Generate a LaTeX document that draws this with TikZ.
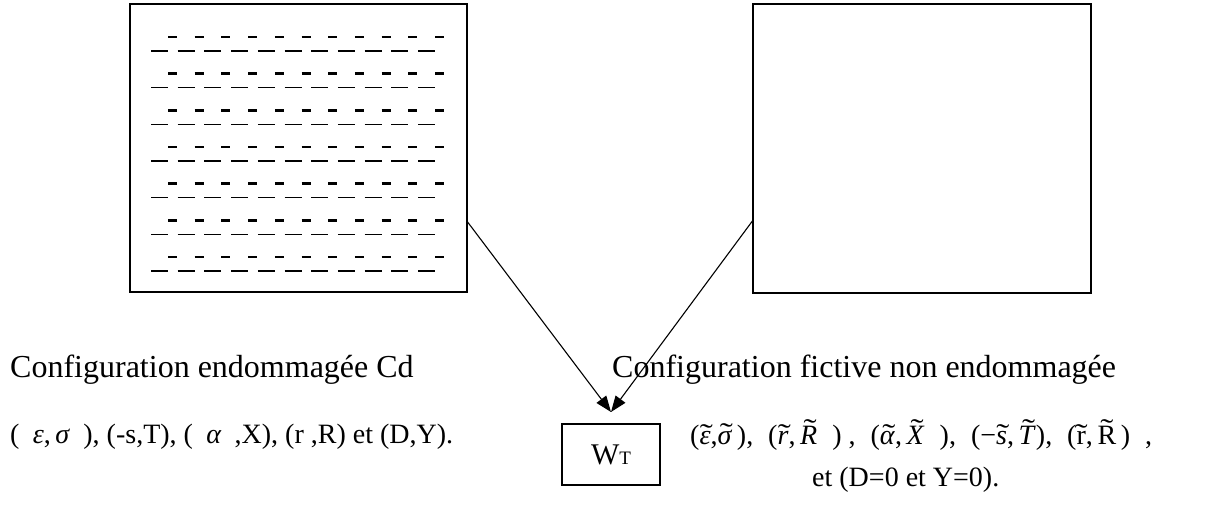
\documentclass[tikz,border=0pt]{standalone}
\usepackage{fontspec}
\setmainfont{Liberation Serif}
\usetikzlibrary{arrows.meta}
\newcommand{\tld}[2][0.1em]{\setbox0\hbox{#2}\rlap{\hbox to \wd0{\hss\kern#1\raisebox{\dimexpr\ht0-0.47em\relax}{\scalebox{1.4}[1]{\char"02DC}}\hss}}\box0}
\newcommand{\spg}{\hspace{0pt plus 1fil}}
\tikzset{
  frame/.style={draw, line width=1.2pt, inner sep=0pt},
  lbl/.style={anchor=base west, inner sep=0pt, font=\fontsize{32}{38}\selectfont},
  eq/.style={anchor=base west, inner sep=0pt, font=\fontsize{28}{33}\selectfont},
  conn/.style={line width=1.1pt, -{Triangle[length=16pt,width=12pt]}},
  hy/.style={line width=2.5pt},
  us/.style={line width=1.3pt},
}
\begin{document}
\begin{tikzpicture}[x=1pt,y=-1pt]
\useasboundingbox (0,0) rectangle (1213,510);
\node[frame, minimum width=337pt, minimum height=288pt] (L) at (298.5,148) {};
\node[frame, minimum width=338pt, minimum height=289pt] (R) at (922,148.5) {};
\foreach \i in {0,...,6} \foreach \j in {0,...,10} {
  \draw[us] ({151+26.7*\j},{51+36.67*\i}) -- ++(17,0);
  \draw[hy] ({168+26.7*\j},{37+36.67*\i}) -- ++(9,0);
}
\node[frame, minimum width=98pt, minimum height=61pt, font=\fontsize{30}{36}\selectfont] (W) at (611,454.5) {W{\fontsize{19}{22}\selectfont T}};
\coordinate (tip) at (611,412);
\draw[conn] ([yshift=-74pt]L.east) -- (tip);
\draw[conn] ([yshift=-72.5pt]R.west) -- (tip);
\node[lbl] (t1) at (10,378) {Configuration endommagée Cd};
\node[lbl] (t2) at (612,378) {Configuration fictive non endommagée};
\node[eq] (t3) at (10,443) {\makebox[443pt][s]{(\spg\textit{ε},\,\textit{σ}\spg), (-s,T), (\spg\textit{α}\spg,X), (r ,R) et (D,Y).}};
\node[eq] (t4) at (690,444) {\makebox[462pt][s]{(\tld{\textit{ε}},\tld{\textit{σ}}\,),\spg(\tld{\textit{r}},\,\tld{\textit{R}}\spg) ,\spg(\tld{\textit{α}},\,\tld{\textit{X}}\spg),\spg(−\tld{\textit{s}},\,\tld{\textit{T}}),\spg(\tld[0pt]{r},\,\tld[0pt]{R}\,)\spg,}};
\node[eq] (t5) at (812,486) {et (D=0 et Y=0).};
\end{tikzpicture}
\end{document}
